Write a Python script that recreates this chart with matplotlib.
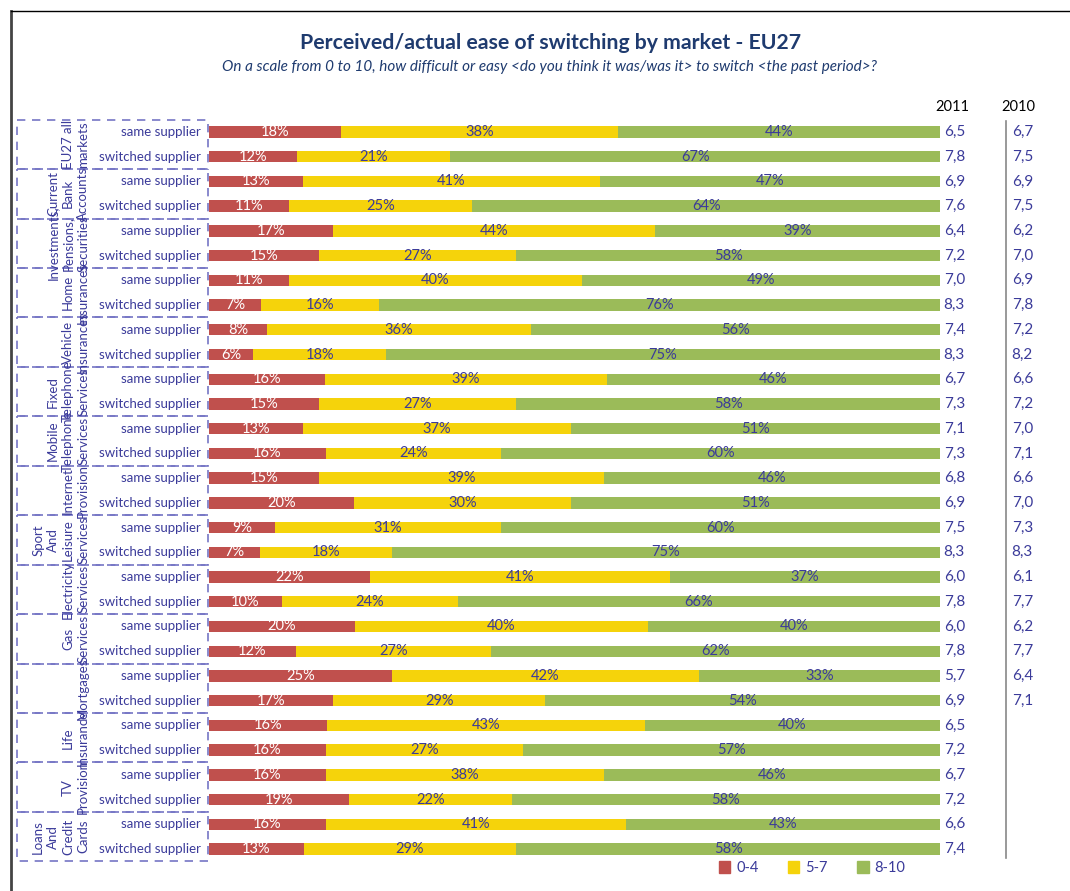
import numpy as np
import matplotlib.pyplot as plt
from matplotlib.patches import Rectangle, Patch

plt.rcParams['font.family'] = ['Lato', 'DejaVu Sans']

# ---------- data ----------
groups = ["EU27 all\nmarkets", "Current\nBank\nAccounts", "Investments,\nPensions,\nSecurities",
          "Home\nInsurances", "Vehicle\nInsurances", "Fixed\nTelephone\nServices",
          "Mobile\nTelephone\nServices", "Internet\nProvision", "Sport\nAnd\nLeisure\nServices",
          "Electricity\nServices", "Gas\nServices", "Mortgages", "Life\nInsurance",
          "TV\nProvision", "Loans\nAnd\nCredit\nCards"]
row_labels = ["same supplier", "switched supplier"] * len(groups)

low = [18, 12, 13, 11, 17, 15, 11, 7, 8, 6, 16, 15, 13, 16, 15, 20,
       9, 7, 22, 10, 20, 12, 25, 17, 16, 16, 16, 19, 16, 13]
mid = [38, 21, 41, 25, 44, 27, 40, 16, 36, 18, 39, 27, 37, 24, 39, 30,
       31, 18, 41, 24, 40, 27, 42, 29, 43, 27, 38, 22, 41, 29]
high = [44, 67, 47, 64, 39, 58, 49, 76, 56, 75, 46, 58, 51, 60, 46, 51,
        60, 75, 37, 66, 40, 62, 33, 54, 40, 57, 46, 58, 43, 58]
score_2011 = ["6,5", "7,8", "6,9", "7,6", "6,4", "7,2", "7,0", "8,3", "7,4", "8,3",
              "6,7", "7,3", "7,1", "7,3", "6,8", "6,9", "7,5", "8,3", "6,0", "7,8",
              "6,0", "7,8", "5,7", "6,9", "6,5", "7,2", "6,7", "7,2", "6,6", "7,4"]
score_2010 = ["6,7", "7,5", "6,9", "7,5", "6,2", "7,0", "6,9", "7,8", "7,2", "8,2",
              "6,6", "7,2", "7,0", "7,1", "6,6", "7,0", "7,3", "8,3", "6,1", "7,7",
              "6,2", "7,7", "6,4", "7,1"]
legend_labels = ["0-4", "5-7", "8-10"]

RED, YEL, GRN = "#C0504D", "#F5D30B", "#9BBB59"
TXT = "#3B3B9A"
NAVY = "#1F3B6F"

fig = plt.figure(figsize=(10.7, 8.91), dpi=100)
ax = fig.add_axes([209 / 1070, 1 - 861.4 / 891, 731 / 1070, 741.8 / 891])

n = len(low)
y = np.arange(n)
tot = np.array(low) + np.array(mid) + np.array(high)
lw_ = np.array(low) / tot * 100
mw_ = np.array(mid) / tot * 100
hw_ = np.array(high) / tot * 100

ax.barh(y, lw_, height=0.46, color=RED)
ax.barh(y, mw_, left=lw_, height=0.46, color=YEL)
ax.barh(y, hw_, left=lw_ + mw_, height=0.46, color=GRN)

for i in range(n):
    ax.text(lw_[i] / 2, i, f"{low[i]}%", ha='center', va='center', color='white', fontsize=10.5)
    ax.text(lw_[i] + mw_[i] / 2, i, f"{mid[i]}%", ha='center', va='center', color=TXT, fontsize=10.5)
    ax.text(lw_[i] + mw_[i] + hw_[i] / 2, i, f"{high[i]}%", ha='center', va='center', color=TXT, fontsize=10.5)
    ax.text(100.5, i, score_2011[i], ha='left', va='center', color=TXT, fontsize=11, clip_on=False)
    ax.text(-1.1, i, row_labels[i], ha='right', va='center', color=TXT, fontsize=9.5, clip_on=False)
for i, s in enumerate(score_2010):
    ax.text(109.8, i, s, ha='left', va='center', color=TXT, fontsize=11, clip_on=False)

ax.text(101.64, -1, "2011", ha='center', va='center', color='black', fontsize=10.5, clip_on=False)
ax.text(110.67, -1, "2010", ha='center', va='center', color='black', fontsize=10.5, clip_on=False)
ax.plot([109.05, 109.05], [-0.45, 29.35], color='#888888', lw=1.2, clip_on=False)

# group boxes + rotated labels
for g, name in enumerate(groups):
    ax.add_patch(Rectangle((-26.3, 2 * g - 0.5), 26.15, 2, fill=False, ec='#7575C5',
                           lw=1.2, ls=(0, (5, 4)), clip_on=False))
    ax.text(-16.4, 2 * g + 0.5, name, rotation=90, ha='right', va='center', color=TXT,
            fontsize=9.5, multialignment='center', linespacing=1.3, clip_on=False)

ax.set_xlim(0, 100)
ax.set_ylim(n - 0.5, -0.5)
ax.axis('off')

# frame lines
fig.add_artist(plt.Line2D([11 / 1070, 11 / 1070], [0, 1 - 11 / 891], color='#444444', lw=2))
fig.add_artist(plt.Line2D([11 / 1070, 1], [1 - 11 / 891, 1 - 11 / 891], color='black', lw=1))

fig.text(551 / 1070, 1 - 43 / 891, "Perceived/actual ease of switching by market - EU27",
         ha='center', va='center', color=NAVY, fontsize=15.3, fontweight='bold')
fig.text(550 / 1070, 1 - 67 / 891,
         "On a scale from 0 to 10, how difficult or easy <do you think it was/was it> to switch <the past period>?",
         ha='center', va='center', color=NAVY, fontsize=11, style='italic')

handles = [Patch(color=c) for c in (RED, YEL, GRN)]
leg = fig.legend(handles, legend_labels, loc='center', bbox_to_anchor=(812 / 1070, 1 - 868 / 891),
                 ncol=3, frameon=False, handlelength=0.8, handleheight=0.8, handletextpad=0.4,
                 columnspacing=2.0, fontsize=10.5)
for t in leg.get_texts():
    t.set_color(TXT)

fig.savefig("out.png", dpi=100)
